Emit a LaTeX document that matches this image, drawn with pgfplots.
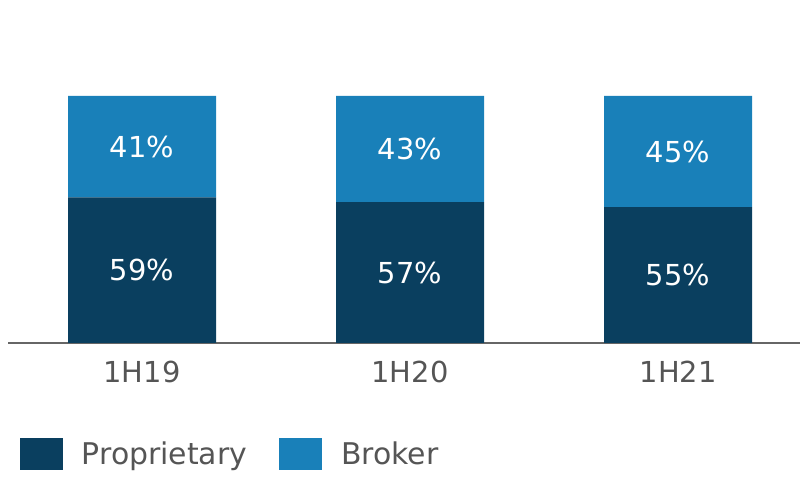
\documentclass[border=0pt]{standalone}
\usepackage{pgfplots}
\pgfplotsset{compat=1.18}
\usepackage{fontspec}
\setmainfont{DejaVu Sans}
\definecolor{prop}{HTML}{0A3F5F}
\definecolor{brok}{HTML}{1980B9}
\definecolor{txt}{HTML}{555555}
\definecolor{axl}{HTML}{666666}
\begin{document}
\begin{tikzpicture}[x=1bp,y=1bp]
\path[use as bounding box] (0,0) rectangle (800,498);
\begin{axis}[
  at={(8bp,155bp)}, anchor=south west,
  scale only axis, width=792bp, height=247bp,
  ybar stacked, bar width=148bp,
  xmin=-0.5, xmax=2.455, ymin=0, ymax=100,
  xtick={0,1,2}, xticklabels={1H19,1H20,1H21},
  ytick=\empty,
  axis x line*=bottom, axis y line=none,
  x axis line style={draw=axl, line width=1.3bp, -},
  major tick length=0pt,
  /pgf/number format/assume math mode=true,
  xticklabel style={font=\fontsize{29}{33}\selectfont, text=txt, yshift=-15bp},
  clip=false,
  nodes near coords={\pgfmathprintnumber[assume math mode=true]{\rawy}\%},
  visualization depends on=rawy \as \rawy,
  every node near coord/.append style={font=\fontsize{29}{33}\selectfont, text=white, anchor=center},
  legend columns=2,
  legend style={draw=none, fill=none, at={(rel axis cs:0.011,-0.449)}, anchor=west,
    font=\fontsize{30}{34}\selectfont, text=txt,
    /tikz/every odd column/.append style={column sep=17bp},
    /tikz/every even column/.append style={column sep=30bp}},
  legend image code/.code={\fill[#1] (0bp,-16bp) rectangle (43bp,16bp);},
]
\addplot[fill=prop, draw=none] coordinates {(0,59) (1,57) (2,55)};
\addplot[fill=brok, draw=none] coordinates {(0,41) (1,43) (2,45)};
\legend{Proprietary, Broker}
\end{axis}
\end{tikzpicture}
\end{document}
